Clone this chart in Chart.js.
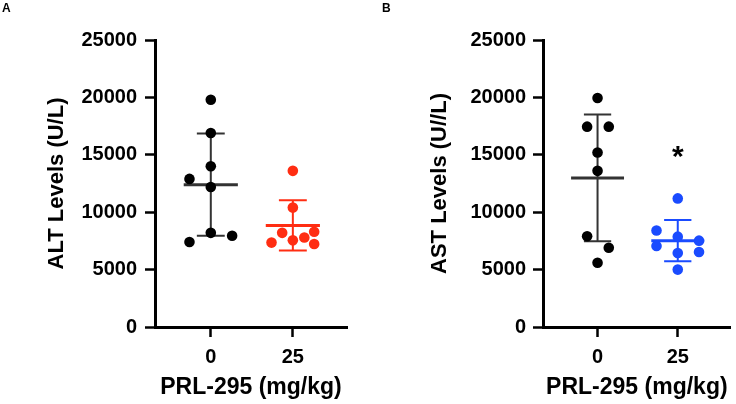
<!DOCTYPE html>
<html lang="en">
<head>
<meta charset="UTF-8">
<script src="https://cdn.jsdelivr.net/npm/chart.js"></script>
<style>
  body { margin: 0; background: #fff; }
  .panel { position: absolute; top: 0; width: 368px; height: 404px; }
  .letter { position: absolute; top: 1px; font: bold 12px 'Liberation Sans', Arial, sans-serif; color: #000; }
</style>
</head>
<body>
<div class="panel" style="left:0"><canvas id="chartA" width="368" height="404"></canvas></div>
<div class="panel" style="left:368px"><canvas id="chartB" width="368" height="404"></canvas></div>
<div class="letter" style="left:2px">A</div>
<div class="letter" style="left:382px">B</div>
<script>
// categories and ticks
const doseLabels = ['0', '25'];
const yTicks = [0, 5000, 10000, 15000, 20000, 25000];

// ALT levels (U/L)
const altCtrl = [19800, 16900, 14000, 12900, 12200, 8200, 7400, 7950];
const altCtrlJitter = [0, 0, 0, -0.26, 0, 0, -0.26, 0.26];
const altDrug = [13600, 10400, 8200, 8300, 7800, 7550, 7350, 7230];
const altDrugJitter = [0, 0, -0.13, 0.26, 0.14, 0, -0.26, 0.26];
const altMean = [12400, 8850];
const altSD = [4460, 2190];

// AST levels (U/L)
const astCtrl = [19950, 17450, 17450, 15200, 13600, 7900, 6900, 5600];
const astCtrlJitter = [0, -0.13, 0.14, 0, 0, -0.13, 0.14, 0];
const astDrug = [11200, 8400, 7870, 7520, 7050, 6530, 6450, 5000];
const astDrugJitter = [0, -0.265, 0, 0.265, -0.265, 0.265, 0, 0];
const astMean = [12980, 7520];
const astSD = [5520, 1800];
const astStars = ['', '*'];
const astStarValue = [null, 15300];

const FONT = "'Liberation Sans', Arial, sans-serif";

function makePanel(id, p) {
  const errorBars = {
    id: 'errorBars_' + id,
    beforeDatasetsDraw(chart) {
      const {ctx, scales: {x, y}} = chart;
      p.mean.forEach((m, i) => {
        const cx = x.getPixelForValue(i);
        const yMid = y.getPixelForValue(m);
        const yHi = y.getPixelForValue(m + p.sd[i]);
        const yLo = y.getPixelForValue(m - p.sd[i]);
        ctx.save();
        ctx.strokeStyle = p.barColors[i];
        ctx.lineWidth = 2;
        ctx.beginPath();
        ctx.moveTo(cx, yHi); ctx.lineTo(cx, yLo);
        ctx.moveTo(x.getPixelForValue(i - 0.17), yHi); ctx.lineTo(x.getPixelForValue(i + 0.17), yHi);
        ctx.moveTo(x.getPixelForValue(i - 0.17), yLo); ctx.lineTo(x.getPixelForValue(i + 0.17), yLo);
        ctx.stroke();
        ctx.lineWidth = 3;
        ctx.beginPath();
        ctx.moveTo(x.getPixelForValue(i - 0.33), yMid); ctx.lineTo(x.getPixelForValue(i + 0.33), yMid);
        ctx.stroke();
        ctx.restore();
      });
    },
    afterDatasetsDraw(chart) {
      if (!p.stars) return;
      const {ctx, scales: {x, y}} = chart;
      p.stars.forEach((s, i) => {
        if (!s) return;
        ctx.save();
        ctx.fillStyle = '#000';
        ctx.font = 'bold 30px ' + FONT;
        ctx.textAlign = 'center';
        ctx.textBaseline = 'alphabetic';
        ctx.fillText(s, x.getPixelForValue(i), y.getPixelForValue(p.starValue[i]) + 15);
        ctx.restore();
      });
    }
  };

  const datasets = p.groups.map((g, i) => ({
    type: 'scatter',
    data: g.values.map((v, k) => ({x: i + g.jitter[k], y: v})),
    backgroundColor: p.dotColors[i],
    borderWidth: 0,
    pointRadius: 5.3,
    pointHoverRadius: 5.3
  }));

  new Chart(document.getElementById(id), {
    type: 'scatter',
    data: {datasets},
    plugins: [errorBars],
    options: {
      responsive: false,
      animation: false,
      layout: {padding: {top: 40, right: p.padRight, left: 0, bottom: 0}},
      plugins: {legend: {display: false}, tooltip: {enabled: false}},
      scales: {
        x: {
          type: 'linear', min: -0.68, max: 1.66,
          afterBuildTicks: s => { s.ticks = doseLabels.map((_, i) => ({value: i})); },
          afterFit: s => { s.height = 77; },
          ticks: {callback: v => doseLabels[v], color: '#000', padding: 8, maxRotation: 0,
                  font: {family: FONT, size: 20, weight: 'bold'}},
          grid: {drawOnChartArea: false, drawTicks: true, tickLength: 10, tickWidth: 2.5, color: '#000'},
          border: {display: true, width: 3, color: '#000'},
          title: {display: true, text: 'PRL-295 (mg/kg)', color: '#000',
                  font: {family: FONT, size: 23, weight: 'bold'}, padding: {top: 0, bottom: 3}}
        },
        y: {
          min: 0, max: 25000,
          afterBuildTicks: s => { s.ticks = yTicks.map(v => ({value: v})); },
          afterFit: s => { s.width = p.yWidth; },
          ticks: {callback: v => String(v), color: '#000', padding: p.tickPad,
                  font: {family: FONT, size: 20, weight: 'bold'}},
          grid: {drawOnChartArea: false, drawTicks: true, tickLength: 10, tickWidth: 2.5, color: '#000'},
          border: {display: true, width: 3, color: '#000'},
          title: {display: true, text: p.yTitle, color: '#000',
                  font: {family: FONT, size: 22, weight: 'bold'}, padding: {top: p.titlePad, bottom: 0}}
        }
      }
    }
  });
}

makePanel('chartA', {
  yTitle: 'ALT Levels (U/L)',
  groups: [{values: altCtrl, jitter: altCtrlJitter}, {values: altDrug, jitter: altDrugJitter}],
  mean: altMean, sd: altSD,
  dotColors: ['#000000', '#ff2d12'], barColors: ['#333333', '#ff2d12'],
  yWidth: 155, tickPad: 8, titlePad: 44, padRight: 21
});

makePanel('chartB', {
  yTitle: 'AST Levels (U//L)',
  groups: [{values: astCtrl, jitter: astCtrlJitter}, {values: astDrug, jitter: astDrugJitter}],
  mean: astMean, sd: astSD,
  stars: astStars, starValue: astStarValue,
  dotColors: ['#000000', '#1a4bff'], barColors: ['#333333', '#1a4bff'],
  yWidth: 175, tickPad: 7, titlePad: 59, padRight: 2
});
</script>
</body>
</html>
